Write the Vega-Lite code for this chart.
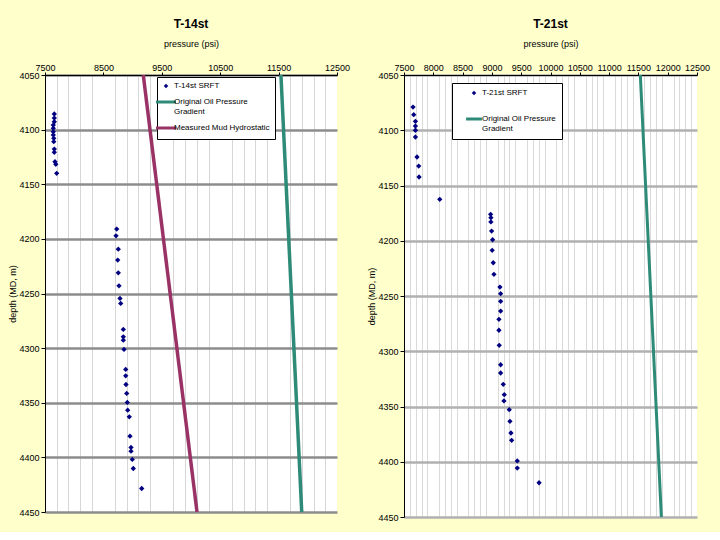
{
  "$schema": "https://vega.github.io/schema/vega-lite/v6.json",
  "background": "#FFFFCC",
  "padding": {"left": 8, "top": 18, "right": 10, "bottom": 10},
  "datasets": {
    "t14": [
      {"series": "T-14st SRFT", "pressure": 7659, "depth": 4085.7},
      {"series": "T-14st SRFT", "pressure": 7659, "depth": 4089.4},
      {"series": "T-14st SRFT", "pressure": 7659, "depth": 4092.8},
      {"series": "T-14st SRFT", "pressure": 7642, "depth": 4095.8},
      {"series": "T-14st SRFT", "pressure": 7642, "depth": 4098.8},
      {"series": "T-14st SRFT", "pressure": 7642, "depth": 4101.9},
      {"series": "T-14st SRFT", "pressure": 7642, "depth": 4104.9},
      {"series": "T-14st SRFT", "pressure": 7650, "depth": 4108.0},
      {"series": "T-14st SRFT", "pressure": 7650, "depth": 4111.0},
      {"series": "T-14st SRFT", "pressure": 7659, "depth": 4117.8},
      {"series": "T-14st SRFT", "pressure": 7659, "depth": 4120.8},
      {"series": "T-14st SRFT", "pressure": 7671, "depth": 4129.4},
      {"series": "T-14st SRFT", "pressure": 7685, "depth": 4131.8},
      {"series": "T-14st SRFT", "pressure": 7700, "depth": 4140.0},
      {"series": "T-14st SRFT", "pressure": 8728, "depth": 4191.0},
      {"series": "T-14st SRFT", "pressure": 8716, "depth": 4197.2},
      {"series": "T-14st SRFT", "pressure": 8755, "depth": 4209.4},
      {"series": "T-14st SRFT", "pressure": 8745, "depth": 4219.4},
      {"series": "T-14st SRFT", "pressure": 8755, "depth": 4231.1},
      {"series": "T-14st SRFT", "pressure": 8767, "depth": 4243.0},
      {"series": "T-14st SRFT", "pressure": 8784, "depth": 4254.5},
      {"series": "T-14st SRFT", "pressure": 8796, "depth": 4259.1},
      {"series": "T-14st SRFT", "pressure": 8841, "depth": 4282.9},
      {"series": "T-14st SRFT", "pressure": 8841, "depth": 4289.7},
      {"series": "T-14st SRFT", "pressure": 8841, "depth": 4292.7},
      {"series": "T-14st SRFT", "pressure": 8853, "depth": 4301.2},
      {"series": "T-14st SRFT", "pressure": 8882, "depth": 4319.5},
      {"series": "T-14st SRFT", "pressure": 8882, "depth": 4325.4},
      {"series": "T-14st SRFT", "pressure": 8887, "depth": 4333.3},
      {"series": "T-14st SRFT", "pressure": 8899, "depth": 4341.5},
      {"series": "T-14st SRFT", "pressure": 8909, "depth": 4349.7},
      {"series": "T-14st SRFT", "pressure": 8916, "depth": 4356.8},
      {"series": "T-14st SRFT", "pressure": 8943, "depth": 4362.9},
      {"series": "T-14st SRFT", "pressure": 8955, "depth": 4380.6},
      {"series": "T-14st SRFT", "pressure": 8973, "depth": 4390.9},
      {"series": "T-14st SRFT", "pressure": 8973, "depth": 4394.3},
      {"series": "T-14st SRFT", "pressure": 8995, "depth": 4401.9},
      {"series": "T-14st SRFT", "pressure": 9012, "depth": 4410.2},
      {"series": "T-14st SRFT", "pressure": 9156, "depth": 4428.5}
    ],
    "t21": [
      {"series": "T-21st SRFT", "pressure": 7654, "depth": 4079.0},
      {"series": "T-21st SRFT", "pressure": 7666, "depth": 4085.9},
      {"series": "T-21st SRFT", "pressure": 7695, "depth": 4091.9},
      {"series": "T-21st SRFT", "pressure": 7695, "depth": 4096.2},
      {"series": "T-21st SRFT", "pressure": 7695, "depth": 4100.0},
      {"series": "T-21st SRFT", "pressure": 7695, "depth": 4106.1},
      {"series": "T-21st SRFT", "pressure": 7722, "depth": 4124.2},
      {"series": "T-21st SRFT", "pressure": 7751, "depth": 4132.4},
      {"series": "T-21st SRFT", "pressure": 7757, "depth": 4142.3},
      {"series": "T-21st SRFT", "pressure": 8110, "depth": 4162.5},
      {"series": "T-21st SRFT", "pressure": 8978, "depth": 4176.1},
      {"series": "T-21st SRFT", "pressure": 8983, "depth": 4179.1},
      {"series": "T-21st SRFT", "pressure": 8983, "depth": 4183.0},
      {"series": "T-21st SRFT", "pressure": 8995, "depth": 4191.2},
      {"series": "T-21st SRFT", "pressure": 9012, "depth": 4199.1},
      {"series": "T-21st SRFT", "pressure": 9005, "depth": 4208.7},
      {"series": "T-21st SRFT", "pressure": 9023, "depth": 4219.9},
      {"series": "T-21st SRFT", "pressure": 9035, "depth": 4230.4},
      {"series": "T-21st SRFT", "pressure": 9137, "depth": 4241.9},
      {"series": "T-21st SRFT", "pressure": 9149, "depth": 4247.9},
      {"series": "T-21st SRFT", "pressure": 9149, "depth": 4254.8},
      {"series": "T-21st SRFT", "pressure": 9149, "depth": 4263.6},
      {"series": "T-21st SRFT", "pressure": 9120, "depth": 4271.1},
      {"series": "T-21st SRFT", "pressure": 9120, "depth": 4281.0},
      {"series": "T-21st SRFT", "pressure": 9125, "depth": 4294.6},
      {"series": "T-21st SRFT", "pressure": 9149, "depth": 4312.2},
      {"series": "T-21st SRFT", "pressure": 9149, "depth": 4319.7},
      {"series": "T-21st SRFT", "pressure": 9194, "depth": 4329.9},
      {"series": "T-21st SRFT", "pressure": 9211, "depth": 4339.3},
      {"series": "T-21st SRFT", "pressure": 9206, "depth": 4345.0},
      {"series": "T-21st SRFT", "pressure": 9296, "depth": 4352.9},
      {"series": "T-21st SRFT", "pressure": 9308, "depth": 4363.4},
      {"series": "T-21st SRFT", "pressure": 9325, "depth": 4374.0},
      {"series": "T-21st SRFT", "pressure": 9337, "depth": 4380.6},
      {"series": "T-21st SRFT", "pressure": 9433, "depth": 4399.3},
      {"series": "T-21st SRFT", "pressure": 9433, "depth": 4405.7},
      {"series": "T-21st SRFT", "pressure": 9805, "depth": 4419.0}
    ],
    "lines14": [
      {"series": "Original Oil Pressure Gradient", "pressure": 11540, "depth": 4050},
      {"series": "Original Oil Pressure Gradient", "pressure": 11896, "depth": 4450},
      {"series": "Measured Mud Hydrostatic", "pressure": 9183, "depth": 4050},
      {"series": "Measured Mud Hydrostatic", "pressure": 10103, "depth": 4450}
    ],
    "lines21": [
      {"series": "Original Oil Pressure Gradient", "pressure": 11533, "depth": 4050},
      {"series": "Original Oil Pressure Gradient", "pressure": 11892, "depth": 4450}
    ]
  },
  "spacing": 67,
  "bounds": "flush",
  "resolve": {
    "scale": {"x": "independent", "y": "independent", "color": "independent"},
    "legend": {"color": "independent"},
    "axis": {"x": "independent", "y": "independent"}
  },
  "config": {
    "font": "Liberation Sans",
    "view": {"stroke": null, "fill": "white"},
    "axis": {
      "labelFont": "Liberation Sans",
      "labelFontSize": 9,
      "labelColor": "black",
      "titleFont": "Liberation Sans",
      "titleFontSize": 9,
      "titleFontWeight": "normal",
      "titleColor": "black",
      "domainColor": "black",
      "domainWidth": 1,
      "tickColor": "black",
      "tickSize": 4,
      "labelFlush": false,
      "labelOverlap": false
    },
    "title": {"font": "Liberation Sans", "fontSize": 12, "fontWeight": "bold", "color": "black", "offset": 8},
    "legend": {
      "labelFont": "Liberation Sans",
      "labelFontSize": 8,
      "labelColor": "black",
      "fillColor": "white",
      "strokeColor": "black",
      "direction": "vertical",
      "orient": "none"
    }
  },
  "hconcat": [
    {
      "title": "T-14st",
      "width": 292,
      "height": 437,
      "resolve": {"axis": {"x": "independent"}},
      "layer": [
        {
          "data": {"name": "lines14"},
          "mark": {"type": "line", "strokeWidth": 3.5, "clip": true},
          "encoding": {
            "x": {
              "field": "pressure", "type": "quantitative",
              "scale": {"domain": [7500, 12500], "zero": false, "nice": false},
              "axis": {
                "orient": "bottom",
                "title": null,
                "labels": false,
                "ticks": false,
                "domain": false,
                "values": [7700,7900,8100,8300,8700,8900,9100,9300,9700,9900,10100,10300,10700,10900,11100,11300,11700,11900,12100,12300],
                "gridColor": "#D6D6D6",
                "gridWidth": 1
              }
            },
            "y": {
              "field": "depth", "type": "quantitative",
              "scale": {"domain": [4050, 4450], "reverse": true, "zero": false, "nice": false},
              "axis": {
                "title": "depth (MD, m)",
                "titlePadding": 1,
                "format": "d",
                "values": [4050,4100,4150,4200,4250,4300,4350,4400,4450],
                "gridColor": "#8C8C8C",
                "gridWidth": 2.5
              }
            },
            "color": {
              "field": "series", "type": "nominal",
              "scale": {
                "domain": ["T-14st SRFT", "Original Oil Pressure Gradient", "Measured Mud Hydrostatic"],
                "range": ["#000080", "#2E8B78", "#993366"]
              },
              "legend": {
                "title": null,
                "legendX": 112,
                "legendY": 2,
                "padding": 5,
                "rowPadding": 6,
                "symbolSize": 400,
                "labelLimit": 200,
                "labelExpr": "datum.value === 'Original Oil Pressure Gradient' ? ['Original Oil Pressure', 'Gradient'] : datum.label",
                "encode": {
                  "symbols": {
                    "update": {
                      "shape": {"signal": "datum.value === 'T-14st SRFT' ? 'diamond' : 'stroke'"},
                      "size": {"signal": "datum.value === 'T-14st SRFT' ? 20 : 400"},
                      "strokeWidth": {"signal": "datum.value === 'T-14st SRFT' ? 0 : 3"},
                      "fill": {"signal": "datum.value === 'T-14st SRFT' ? '#000080' : 'transparent'"},
                      "stroke": {"signal": "datum.value === 'Measured Mud Hydrostatic' ? '#993366' : (datum.value === 'T-14st SRFT' ? '#000080' : '#2E8B78')"},
                      "opacity": {"value": 1}
                    }
                  }
                }
              }
            }
          }
        },
        {
          "data": {"name": "t14"},
          "mark": {"type": "point", "shape": "diamond", "filled": true, "size": 28, "opacity": 1},
          "encoding": {
            "x": {
              "field": "pressure", "type": "quantitative",
              "axis": {
                "orient": "top",
                "title": "pressure (psi)",
                "titlePadding": 15,
                "labelPadding": 0,
                "tickSize": 3,
                "labelOverlap": false,
                "format": "d",
                "values": [7500, 8500, 9500, 10500, 11500, 12500],
                "gridColor": "#A6A6A6",
                "gridWidth": 2
              }
            },
            "y": {"field": "depth", "type": "quantitative"},
            "color": {"field": "series", "type": "nominal"}
          }
        }
      ]
    },
    {
      "title": "T-21st",
      "width": 293,
      "height": 442,
      "resolve": {"axis": {"x": "independent"}},
      "layer": [
        {
          "data": {"name": "lines21"},
          "mark": {"type": "line", "strokeWidth": 3, "clip": true},
          "encoding": {
            "x": {
              "field": "pressure", "type": "quantitative",
              "scale": {"domain": [7500, 12500], "zero": false, "nice": false},
              "axis": {
                "orient": "bottom",
                "title": null,
                "labels": false,
                "ticks": false,
                "domain": false,
                "values": [7600,7700,7800,7900,8100,8200,8300,8400,8600,8700,8800,8900,9100,9200,9300,9400,9600,9700,9800,9900,10100,10200,10300,10400,10600,10700,10800,10900,11100,11200,11300,11400,11600,11700,11800,11900,12100,12200,12300,12400],
                "gridColor": "#DADADA",
                "gridWidth": 1
              }
            },
            "y": {
              "field": "depth", "type": "quantitative",
              "scale": {"domain": [4050, 4450], "reverse": true, "zero": false, "nice": false},
              "axis": {
                "title": "depth (MD, m)",
                "titlePadding": 1,
                "format": "d",
                "values": [4050,4100,4150,4200,4250,4300,4350,4400,4450],
                "gridColor": "#B0B0B0",
                "gridWidth": 2.5
              }
            },
            "color": {
              "field": "series", "type": "nominal",
              "scale": {
                "domain": ["T-21st SRFT", "Original Oil Pressure Gradient"],
                "range": ["#000080", "#2E8B78"]
              },
              "legend": {
                "title": null,
                "legendX": 48,
                "legendY": 8,
                "padding": 6,
                "rowPadding": 16,
                "symbolOffset": 12,
                "symbolSize": 250,
                "labelLimit": 200,
                "labelExpr": "datum.value === 'Original Oil Pressure Gradient' ? ['Original Oil Pressure', 'Gradient'] : datum.label",
                "encode": {
                  "symbols": {
                    "update": {
                      "shape": {"signal": "datum.value === 'T-21st SRFT' ? 'diamond' : 'stroke'"},
                      "size": {"signal": "datum.value === 'T-21st SRFT' ? 20 : 250"},
                      "strokeWidth": {"signal": "datum.value === 'T-21st SRFT' ? 0 : 3"},
                      "fill": {"signal": "datum.value === 'T-21st SRFT' ? '#000080' : 'transparent'"},
                      "stroke": {"signal": "datum.value === 'T-21st SRFT' ? '#000080' : '#2E8B78'"},
                      "opacity": {"value": 1}
                    }
                  }
                }
              }
            }
          }
        },
        {
          "data": {"name": "t21"},
          "mark": {"type": "point", "shape": "diamond", "filled": true, "size": 28, "opacity": 1},
          "encoding": {
            "x": {
              "field": "pressure", "type": "quantitative",
              "axis": {
                "orient": "top",
                "title": "pressure (psi)",
                "titlePadding": 15,
                "labelPadding": 0,
                "tickSize": 3,
                "labelOverlap": false,
                "format": "d",
                "values": [7500,8000,8500,9000,9500,10000,10500,11000,11500,12000,12500],
                "gridColor": "#B0B0B0",
                "gridWidth": 2
              }
            },
            "y": {"field": "depth", "type": "quantitative"},
            "color": {"field": "series", "type": "nominal"}
          }
        }
      ]
    }
  ]
}
